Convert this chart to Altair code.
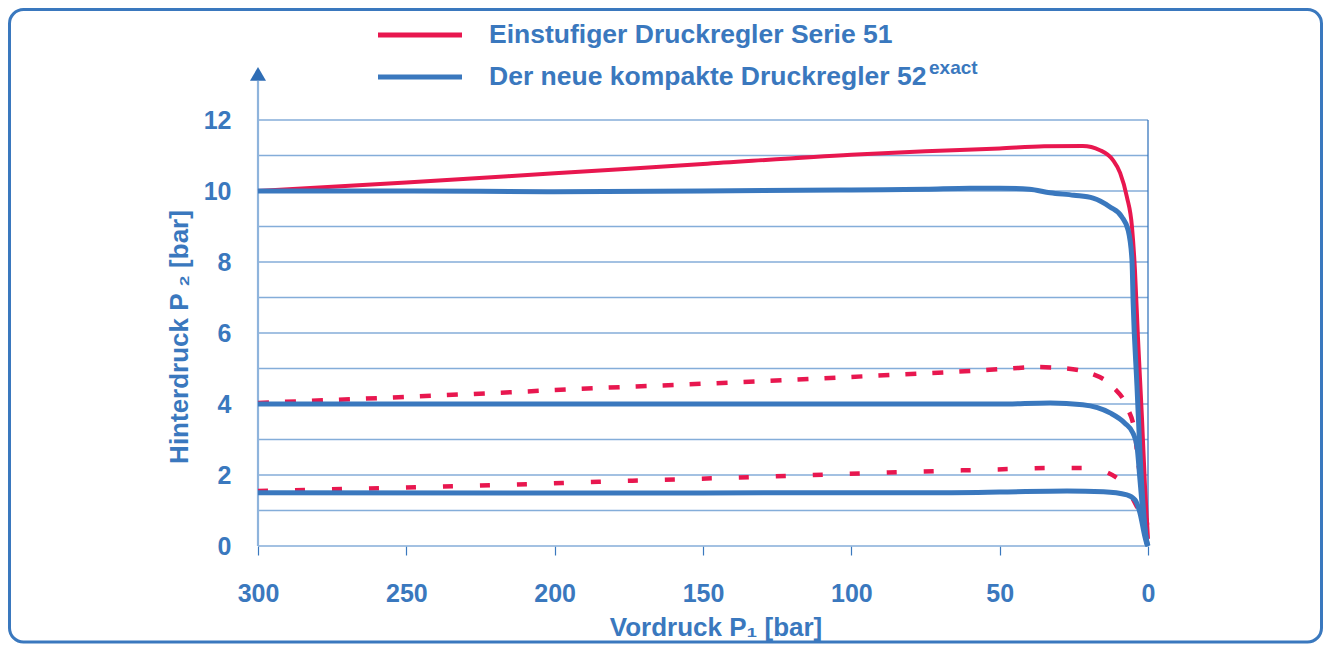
import altair as alt
import pandas as pd

# ---- data ----
# Einstufiger Druckregler Serie 51 (red), set 10 bar
red10_p1 = [300, 250, 200, 150, 100, 75, 50, 35, 22, 16.2, 11.8, 9.4, 7.1, 5.4, 4.4, 3.4, 2.0, 1.0, 0]
red10_p2 = [10.0, 10.24, 10.5, 10.76, 11.02, 11.12, 11.2, 11.26, 11.27, 11.15, 10.87, 10.51, 9.83, 8.99, 7.77, 5.89, 3.55, 1.66, 0.2]
# red dashed, set 4 bar
red4_p1 = [300, 250, 218, 185, 150, 120, 84, 60, 46.5, 37.4, 28.6, 19.6, 11.8, 7.1, 4.4, 3.4, 2.0, 0.3]
red4_p2 = [4.03, 4.2, 4.32, 4.45, 4.57, 4.68, 4.83, 4.93, 5.0, 5.04, 5.01, 4.87, 4.48, 3.92, 3.18, 2.42, 1.66, 0.6]
# red dashed, set 1.5 bar
red15_p1 = [300, 218, 185, 130, 84, 45.8, 33.7, 20.6, 9.4, 3.7, 0.3]
red15_p2 = [1.55, 1.72, 1.81, 1.95, 2.08, 2.17, 2.2, 2.2, 1.86, 1.1, 0.5]
# Der neue kompakte Druckregler 52exact (blue)
blue10_p1 = [300, 250, 200, 150, 100, 75, 60, 50, 40, 33, 25, 18.5, 12.8, 8.8, 6.7, 5.4, 5.0, 3.7, 2.7, 1.7, 0.3, 0]
blue10_p2 = [10.0, 10.0, 9.98, 10.0, 10.03, 10.05, 10.08, 10.08, 10.05, 9.95, 9.88, 9.8, 9.55, 9.27, 8.9, 8.06, 6.85, 4.48, 2.62, 1.21, 0.08, 0]
blue4_p1 = [300, 200, 100, 50, 33, 22, 12.8, 7.8, 5.06, 3.7, 2.7, 1.7, 0.3, 0]
blue4_p2 = [4.0, 4.0, 4.0, 4.0, 4.03, 3.98, 3.75, 3.46, 3.18, 2.8, 1.86, 0.93, 0.08, 0]
blue15_p1 = [300, 200, 100, 75, 50, 27.3, 15, 7.1, 4.4, 2.7, 1.0, 0.3]
blue15_p2 = [1.5, 1.49, 1.5, 1.5, 1.52, 1.55, 1.53, 1.44, 1.3, 0.93, 0.25, 0.03]

x_ticks = [300, 250, 200, 150, 100, 50, 0]
y_ticks = [0, 2, 4, 6, 8, 10, 12]
grid_levels = list(range(0, 13))

legend_labels = ["Einstufiger Druckregler Serie 51", "Der neue kompakte Druckregler 52"]
legend_sup = "exact"
x_title = "Vordruck P\u2081 [bar]"
y_title = "Hinterdruck P \u2082 [bar]"

# ---- style ----
BLUE = "#3A78BE"
RED = "#E8174F"
GRID = "#84ADD9"
FONT = "Liberation Sans, Arial, sans-serif"

xs = alt.Scale(domain=[0, 300], reverse=True, nice=False)
ys = alt.Scale(domain=[0, 12], nice=False)

XAX = alt.Axis(
    values=x_ticks, grid=False, domain=False, ticks=True, tickSize=9, tickWidth=1.2,
    tickColor=BLUE, labelFont=FONT, labelFontSize=25, labelFontWeight="bold",
    labelColor=BLUE, labelPadding=26, labelFlush=False, labelOverlap=False, title=None)
YAX = alt.Axis(
    values=y_ticks, grid=False, domain=False, ticks=False, labelFont=FONT,
    labelFontSize=25, labelFontWeight="bold", labelColor=BLUE, labelPadding=27,
    labelFlush=False, labelOverlap=False, title=None)


def X(f):
    return alt.X(f, scale=xs, axis=XAX)


def Y(f):
    return alt.Y(f, scale=ys, axis=YAX)


W, H = 890, 426


def line(p1, p2, color, width, dash=None):
    df = pd.DataFrame({"P1": p1, "P2": p2})
    kw = dict(color=color, strokeWidth=width, interpolate="monotone", strokeCap="butt")
    if dash:
        kw["strokeDash"] = dash
    return alt.Chart(df).mark_line(**kw).encode(
        x=X("P1:Q"), y=Y("P2:Q"),
        order=alt.Order("P1:Q", sort="descending"),
    )


one = pd.DataFrame({"a": [0]})

grid = alt.Chart(pd.DataFrame({"lvl": grid_levels, "a": 300, "b": 0})).mark_rule(
    color=GRID, strokeWidth=1.3).encode(y=Y("lvl:Q"), x=X("a:Q"), x2="b:Q")

right_rule = alt.Chart(pd.DataFrame({"x": [0], "y0": [0], "y1": [12]})).mark_rule(
    color=BLUE, strokeWidth=1.3).encode(x=X("x:Q"), y=Y("y0:Q"), y2="y1:Q")

y_axis_line = alt.Chart(pd.DataFrame({"x": [300], "y0": [0], "y1": [13.1]})).mark_rule(
    color="#8FB4DC", strokeWidth=2.2).encode(x=X("x:Q"), y=Y("y0:Q"), y2="y1:Q")

arrow = alt.Chart(pd.DataFrame({"x": [300], "y": [13.3]})).mark_point(
    shape="triangle-up", filled=True, size=256, color="#2F6DB5", opacity=1).encode(
    x=X("x:Q"), y=Y("y:Q"))

border = alt.Chart(one).mark_rect(
    fillOpacity=0, stroke=BLUE, strokeWidth=3, cornerRadius=14).encode(
    x=alt.value(-248.5), x2=alt.value(1063.5), y=alt.value(-110.5), y2=alt.value(522))

leg_red = alt.Chart(one).mark_rule(color=RED, strokeWidth=5).encode(
    x=alt.value(120), x2=alt.value(204), y=alt.value(-85))
leg_blue = alt.Chart(one).mark_rule(color=BLUE, strokeWidth=5).encode(
    x=alt.value(120), x2=alt.value(204), y=alt.value(-43))


def text(s, x, y, size=26, angle=0, align="left", baseline="middle"):
    kw = dict(font=FONT, fontSize=size, fontWeight="bold", color=BLUE, align=align,
              baseline=baseline)
    if angle:
        kw["angle"] = angle
    return alt.Chart(one).mark_text(**kw).encode(
        x=alt.value(x), y=alt.value(y), text=alt.value(s))


leg_t1 = text(legend_labels[0], 231, -85, size=26.5)
leg_t2 = text(legend_labels[1], 231, -43, size=26.5)
leg_sup = text(legend_sup, 671, -46, size=19, baseline="alphabetic")
xt = text(x_title, 458, 508, size=26, align="center")
yt = text(y_title, -78, 217, size=26, angle=270, align="center")

chart = alt.layer(
    border, grid, right_rule, y_axis_line, arrow,
    line(red10_p1, red10_p2, RED, 4),
    line(red4_p1, red4_p2, RED, 4.5, [11, 16]),
    line(red15_p1, red15_p2, RED, 4.5, [10, 27]),
    line(blue10_p1, blue10_p2, BLUE, 5),
    line(blue4_p1, blue4_p2, BLUE, 5),
    line(blue15_p1, blue15_p2, BLUE, 5),
    leg_red, leg_blue, leg_t1, leg_t2, leg_sup, xt, yt,
).properties(
    width=W, height=H,
    autosize=alt.AutoSizeParams(type="none"),
    padding={"left": 250, "top": 112, "right": 175, "bottom": 98},
).configure_view(stroke=None)

chart.save("out.html", embed_options={"renderer": "svg", "actions": False})
